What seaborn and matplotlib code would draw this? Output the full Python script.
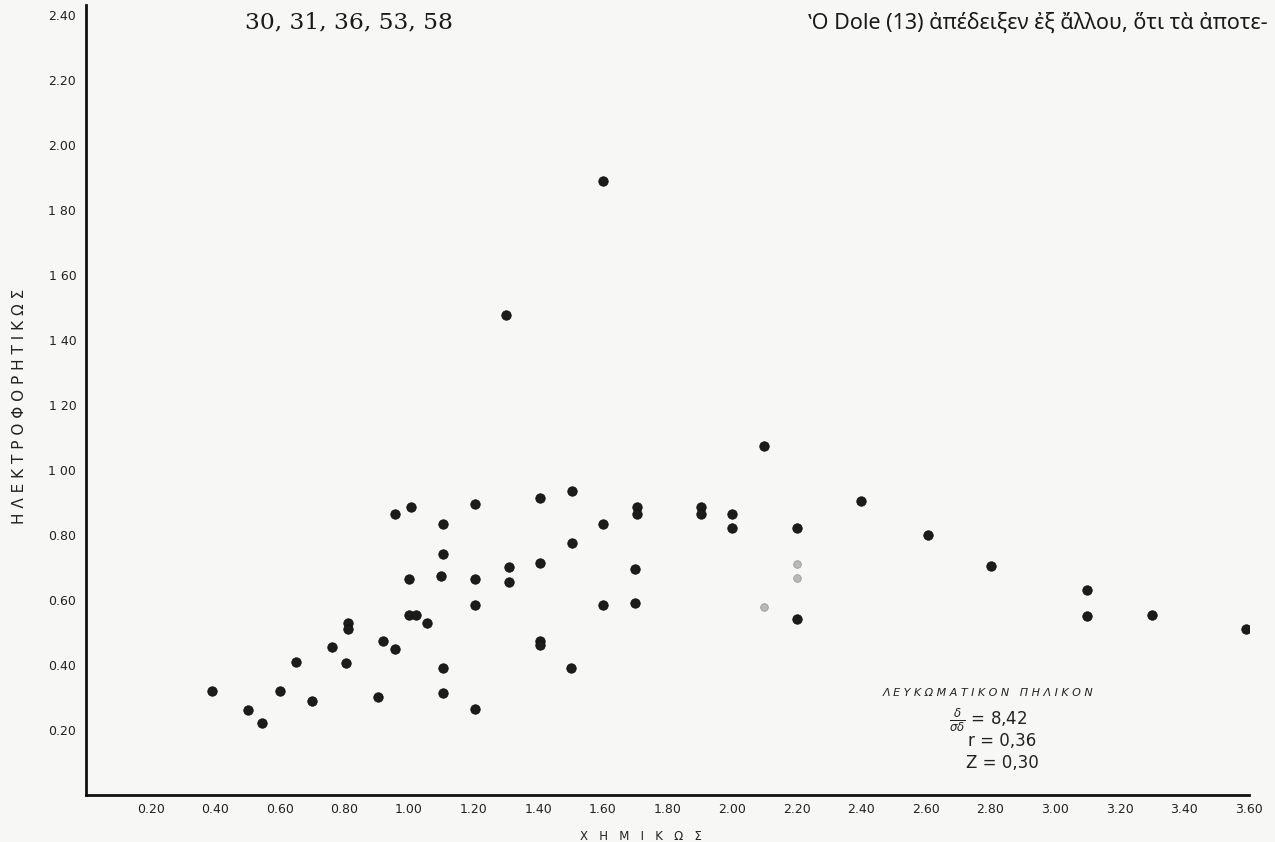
import matplotlib
matplotlib.use("Agg")
import matplotlib.pyplot as plt
import seaborn as sns
import pandas as pd

# ---- data ----
chem = [0.39, 0.50, 0.545, 0.60, 0.65, 0.70, 0.76, 0.81, 0.81, 0.805,
        0.905, 0.92, 0.955, 0.955, 1.005, 1.00, 1.00, 1.02, 1.055,
        1.105, 1.105, 1.10, 1.105, 1.105, 1.205, 1.205, 1.205, 1.205,
        1.30, 1.31, 1.31, 1.405, 1.405, 1.405, 1.405, 1.505, 1.505, 1.50,
        1.60, 1.60, 1.60, 1.705, 1.705, 1.70, 1.70, 1.905, 1.905,
        2.00, 2.00, 2.10, 2.20, 2.20, 2.40, 2.605, 2.80, 3.10, 3.10,
        3.30, 3.59]
elec = [0.32, 0.26, 0.22, 0.32, 0.41, 0.29, 0.455, 0.53, 0.51, 0.405,
        0.30, 0.475, 0.45, 0.865, 0.885, 0.665, 0.555, 0.555, 0.53,
        0.835, 0.74, 0.675, 0.39, 0.315, 0.895, 0.665, 0.585, 0.265,
        1.475, 0.70, 0.655, 0.915, 0.715, 0.475, 0.46, 0.935, 0.775, 0.39,
        1.89, 0.835, 0.585, 0.885, 0.865, 0.695, 0.59, 0.885, 0.865,
        0.865, 0.82, 1.075, 0.82, 0.54, 0.905, 0.80, 0.705, 0.63, 0.55,
        0.555, 0.51]
faint_chem = [2.10, 2.20, 2.20]
faint_elec = [0.578, 0.71, 0.668]

x_ticks = [0.20, 0.40, 0.60, 0.80, 1.00, 1.20, 1.40, 1.60, 1.80, 2.00,
           2.20, 2.40, 2.60, 2.80, 3.00, 3.20, 3.40, 3.60]
x_labels = ["0.20", "0.40", "0.60", "0.80", "1.00", "1.20", "1.40", "1.60",
            "1.80", "2.00", "2.20", "2.40", "2.60", "2.80", "3.00", "3.20",
            "3.40", "3.60"]
y_ticks = [0.20, 0.40, 0.60, 0.80, 1.00, 1.20, 1.40, 1.60, 1.80, 2.00,
           2.20, 2.40]
y_labels = ["0.20", "0.40", "0.60", "0.80", "1 00", "1 20", "1 40", "1 60",
            "1 80", "2.00", "2.20", "2.40"]

df = pd.DataFrame({"chem": chem, "elec": elec})
df_faint = pd.DataFrame({"chem": faint_chem, "elec": faint_elec})

sns.set_theme(style="white")
plt.rcParams["font.family"] = ["DejaVu Sans"]

BG = "#f7f7f5"
fig = plt.figure(figsize=(12.75, 8.42), dpi=100, facecolor=BG)
ax = fig.add_axes([86 / 1275, 47 / 842, 1163 / 1275, 790 / 842])
ax.set_facecolor(BG)

sns.scatterplot(data=df, x="chem", y="elec", ax=ax, color="#1c1c1c",
                s=46, edgecolor="#111111", linewidth=0.6, legend=False)
sns.scatterplot(data=df_faint, x="chem", y="elec", ax=ax, color="#b9b9b9",
                s=30, edgecolor="#9a9a9a", linewidth=0.6, legend=False)

ax.set_xlim(0, 3.6)
ax.set_ylim(0, 2.43)
ax.set_xticks(x_ticks)
ax.set_xticklabels(x_labels, fontsize=9, color="#222222")
ax.set_yticks(y_ticks)
ax.set_yticklabels(y_labels, fontsize=9, color="#222222")
ax.tick_params(axis="both", length=0)
ax.tick_params(axis="x", pad=6)
ax.tick_params(axis="y", pad=7)
ax.set_xlabel("")
ax.set_ylabel("")
for side in ["top", "right"]:
    ax.spines[side].set_visible(False)
for side in ["left", "bottom"]:
    ax.spines[side].set_color("#111111")
    ax.spines[side].set_linewidth(2.0)

# axis titles (hand lettered, spaced)
fig.text(20 / 1275, 1 - 406 / 842, "Η Λ Ε Κ Τ Ρ Ο Φ Ο Ρ Η Τ Ι Κ Ω Σ",
         rotation=90, fontsize=11, ha="center", va="center", color="#222222")
fig.text(641 / 1275, 1 - 836 / 842, "Χ   Η   Μ   Ι   Κ   Ω   Σ",
         fontsize=8.5, ha="center", va="center", color="#222222")

# annotation block
fig.text(988 / 1275, 1 - 693 / 842, "Λ Ε Υ Κ Ω Μ Α Τ Ι Κ Ο Ν   Π Η Λ Ι Κ Ο Ν",
         fontsize=8, style="italic", ha="center", va="center", color="#222222")
fig.text(988 / 1275, 1 - 720 / 842, r"$\frac{\delta}{\sigma\delta}$ = 8,42",
         fontsize=12, ha="center", va="center", color="#222222")
fig.text(1002 / 1275, 1 - 741 / 842, "r = 0,36",
         fontsize=12, ha="center", va="center", color="#222222")
fig.text(1002 / 1275, 1 - 763 / 842, "Z = 0,30",
         fontsize=12, ha="center", va="center", color="#222222")

# page text overlapping the figure
fig.text(245 / 1275, 1 - 28 / 842, "30, 31, 36, 53, 58",
         family=["DejaVu Serif"], fontsize=16.8,
         ha="left", va="baseline", color="#1a1a1a")
fig.text(808 / 1275, 1 - 29 / 842, "ʽΟ Dole (13) ἀπέδειξεν ἐξ ἄλλου, ὅτι τὰ ἀποτε-",
         family=["Noto Sans", "DejaVu Sans"], fontsize=15.5,
         ha="left", va="baseline", color="#1a1a1a")

fig.savefig("out.png", dpi=100, facecolor=BG)
